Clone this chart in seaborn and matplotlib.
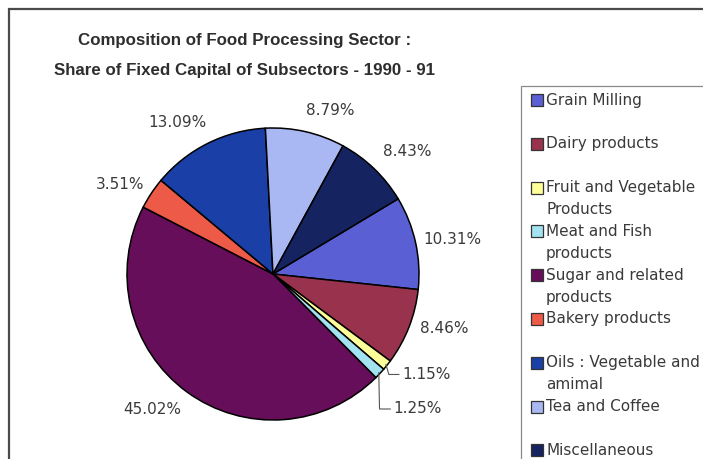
import numpy as np
import matplotlib
matplotlib.use("Agg")
import matplotlib.pyplot as plt
import seaborn as sns
from matplotlib.patches import Rectangle

# Fixed-capital shares of the food processing subsectors, 1990-91 (%)
categories = ["Grain Milling", "Dairy products", "Fruit and Vegetable Products",
              "Meat and Fish products", "Sugar and related products",
              "Bakery products", "Oils : Vegetable and amimal",
              "Tea and Coffee", "Miscellaneous"]
legend_labels = ["Grain Milling", "Dairy products", "Fruit and Vegetable\nProducts",
                 "Meat and Fish\nproducts", "Sugar and related\nproducts",
                 "Bakery products", "Oils : Vegetable and\namimal",
                 "Tea and Coffee", "Miscellaneous"]
shares = [10.31, 8.46, 1.15, 1.25, 45.02, 3.51, 13.09, 8.79, 8.43]
colors = ["#5b5fd4", "#99334d", "#ffff99", "#a3e2f0", "#660e5a",
          "#ee5a48", "#1a3fa6", "#a9b8f2", "#152460"]

title_lines = ["Composition of Food Processing Sector :",
               "Share of Fixed Capital of Subsectors - 1990 - 91"]

sns.set_theme(style="white")
plt.rcParams["font.family"] = ["DejaVu Sans"]

W, H = 703, 459
fig = plt.figure(figsize=(W / 100, H / 100), dpi=100)
fig.patch.set_facecolor("white")


def fx(px):
    return px / W


def fy(py):
    return 1 - py / H


TEXT = "#3a3a3a"

# chart frame (continues past the right and bottom edges)
fig.add_artist(Rectangle((fx(9), -0.05), 1.2, fy(9) + 0.05, transform=fig.transFigure,
                         fill=False, edgecolor="#4a4a4a", linewidth=1.6))

# title
for i, line in enumerate(title_lines):
    fig.text(fx(245), fy(40 + 30 * i), line, ha="center", va="center",
             fontsize=12.2, fontweight="bold", color="#2e2e2e",
             family=["Liberation Sans", "DejaVu Sans"])

# pie
R_PX = 146
half = 150
ax = fig.add_axes([fx(273 - half), fy(274 + half), 2 * half / W, 2 * half / H])
wedges, _ = ax.pie(shares, colors=colors, startangle=31, counterclock=False,
                   radius=1, wedgeprops=dict(edgecolor="black", linewidth=1.1))
lim = half / R_PX
ax.set_xlim(-lim, lim)
ax.set_ylim(-lim, lim)
ax.set_axis_off()

# value labels
nudges = {"Sugar and related products": (-9, -4),
          "Oils : Vegetable and amimal": (-10, 5),
          "Tea and Coffee": (12, 4),
          "Miscellaneous": (5, 4),
          "Dairy products": (0, 3)}
leaders = {"Fruit and Vegetable Products": (0.11, -0.07, 0.02),
           "Meat and Fish products": (0.10, -0.25, 0.005)}

for cat, val, w in zip(categories, shares, wedges):
    theta = np.deg2rad((w.theta1 + w.theta2) / 2)
    c, s = np.cos(theta), np.sin(theta)
    label = f"{val:.2f}%"
    if cat in leaders:
        dx, dy, kx = leaders[cat]
        ex, ey = 0.99 * c, 0.99 * s
        tx, ty = ex + dx, ey + dy
        ax.plot([ex, ex + kx, tx - 0.02], [ey, ty, ty], color="#555555",
                linewidth=0.8, clip_on=False)
        ax.text(tx, ty, label, ha="left", va="center", fontsize=11, color=TEXT)
    else:
        ndx, ndy = nudges.get(cat, (0, 0))
        ax.annotate(label, xy=(1.05 * c, 1.05 * s),
                    xytext=(22 * c + ndx, 6 * s + ndy), textcoords="offset points",
                    ha="center", va="center", fontsize=11, color=TEXT,
                    annotation_clip=False)

# legend box (continues past the right and bottom edges)
fig.add_artist(Rectangle((fx(521), -0.05), 1.0, fy(86) + 0.05, transform=fig.transFigure,
                         fill=False, edgecolor="#8a8a8a", linewidth=0.9))
row0, row_step, line_step = 100, 43.8, 22
for i, (lab, col) in enumerate(zip(legend_labels, colors)):
    yc = row0 + i * row_step
    fig.add_artist(Rectangle((fx(531), fy(yc + 6)), 12 / W, 12 / H,
                             transform=fig.transFigure, facecolor=col,
                             edgecolor="#333333", linewidth=0.9))
    for j, part in enumerate(lab.split("\n")):
        fig.text(fx(546), fy(yc + j * line_step), part, ha="left", va="center",
                 fontsize=11, color=TEXT)

fig.savefig("out.png", dpi=100, facecolor="white")
